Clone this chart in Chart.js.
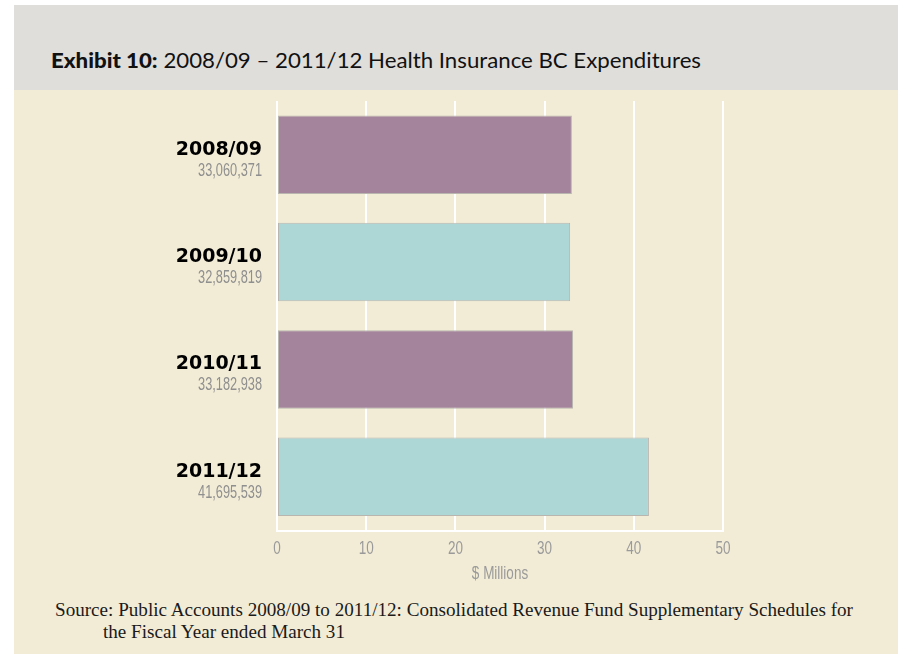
<!DOCTYPE html>
<html>
<head>
<meta charset="utf-8">
<script src="https://cdn.jsdelivr.net/npm/chart.js@4.4.1/dist/chart.umd.min.js"></script>
<style>
  html, body { margin:0; padding:0; background:#ffffff; width:898px; height:654px; overflow:hidden; }
  #header { position:absolute; left:14px; top:5px; width:884px; height:85px; background:#dfdedb; }
  #panel { position:absolute; left:14px; top:90px; width:884px; height:564px; background:#f2ecd6; }
  #title { position:absolute; left:51px; top:47px; white-space:nowrap; font-family:"Lato", sans-serif; font-size:21px; color:#111; transform-origin:left top; }
  #title b { font-weight:900; }
  .src { position:absolute; white-space:nowrap; font-family:"Liberation Serif", serif; font-size:18px; color:#1a1a1a; transform-origin:left top; }
  #src1 { left:55px; top:600px; }
  #src2 { left:103px; top:622px; }
  #wrap { position:absolute; left:0; top:0; width:898px; height:654px; }
</style>
</head>
<body>
<div id="header"></div>
<div id="panel"></div>
<div id="title"><b>Exhibit 10:</b> 2008/09 – 2011/12 Health Insurance BC Expenditures</div>
<div class="src" id="src1">Source: Public Accounts 2008/09 to 2011/12: Consolidated Revenue Fund Supplementary Schedules for</div>
<div class="src" id="src2">the Fiscal Year ended March 31</div>
<div id="wrap"><canvas id="c" width="898" height="654"></canvas></div>
<script>
const categories = ["2008/09", "2009/10", "2010/11", "2011/12"];
const amountLabels = ["33,060,371", "32,859,819", "33,182,938", "41,695,539"];
const valuesMillions = [33.060371, 32.859819, 33.182938, 41.695539];
const xTicks = [0, 10, 20, 30, 40, 50];
const xAxisTitle = "$ Millions";
const barColors = ["#a3849c", "#add6d6", "#a3849c", "#add6d6"];

(function fitText() {
  const t = document.getElementById('title');
  const tw = t.getBoundingClientRect().width;
  if (tw > 0) t.style.transform = 'scaleX(' + (650 / tw) + ')';
  const s1 = document.getElementById('src1');
  const s2 = document.getElementById('src2');
  const w1 = s1.getBoundingClientRect().width;
  if (w1 > 0) {
    const k = 798 / w1;
    s1.style.transform = 'scaleX(' + k + ')';
    s2.style.transform = 'scaleX(' + k + ')';
  }
})();

function drawCondensed(ctx, text, x, y, size, color, align, squeeze) {
  ctx.save();
  ctx.translate(x, y);
  ctx.scale(squeeze, 1);
  ctx.fillStyle = color;
  ctx.font = size + 'px "Liberation Sans", sans-serif';
  ctx.textAlign = align;
  ctx.textBaseline = 'alphabetic';
  ctx.fillText(text, 0, 0);
  ctx.restore();
}

const labelPlugin = {
  id: 'labels',
  afterDraw(chart) {
    const ctx = chart.ctx;
    const ys = chart.scales.y;
    const xs = chart.scales.x;
    const xRight = 262;
    ctx.save();
    categories.forEach((cat, i) => {
      const yc = ys.getPixelForValue(i);
      ctx.textAlign = 'right';
      ctx.textBaseline = 'alphabetic';
      ctx.fillStyle = '#000000';
      ctx.font = 'bold 19px "DejaVu Sans", sans-serif';
      ctx.fillText(cat, xRight, yc);
      drawCondensed(ctx, amountLabels[i], xRight, yc + 21, 18, '#8f8f8f', 'right', 0.71);
    });
    const axisY = chart.chartArea.bottom;
    xTicks.forEach(v => {
      drawCondensed(ctx, String(v), xs.getPixelForValue(v), axisY + 23, 18, '#9a9a9a', 'center', 0.75);
    });
    const midX = (chart.chartArea.left + chart.chartArea.right) / 2;
    drawCondensed(ctx, xAxisTitle, midX, axisY + 48, 18, '#9a9a9a', 'center', 0.75);
    ctx.restore();
  }
};

new Chart(document.getElementById('c'), {
  type: 'bar',
  data: {
    labels: categories,
    datasets: [{
      data: valuesMillions,
      backgroundColor: barColors,
      borderColor: '#b9b6b0',
      borderWidth: 1,
      borderSkipped: false,
      barPercentage: 0.73,
      categoryPercentage: 1
    }]
  },
  options: {
    indexAxis: 'y',
    responsive: false,
    animation: false,
    layout: { padding: { left: 277, right: 175, top: 101, bottom: 60 } },
    plugins: { legend: { display: false }, tooltip: { enabled: false }, title: { display: false } },
    scales: {
      y: { display: false },
      x: {
        min: 0, max: 50,
        afterBuildTicks(scale) { scale.ticks = xTicks.map(v => ({ value: v })); },
        afterFit(scale) { scale.height = 654 - 530.5 - 60; },
        grid: { color: '#ffffff', lineWidth: 2, drawTicks: false },
        border: { color: '#ffffff', width: 2 },
        ticks: { display: false },
        title: { display: false }
      }
    }
  },
  plugins: [labelPlugin]
});
</script>
</body>
</html>
